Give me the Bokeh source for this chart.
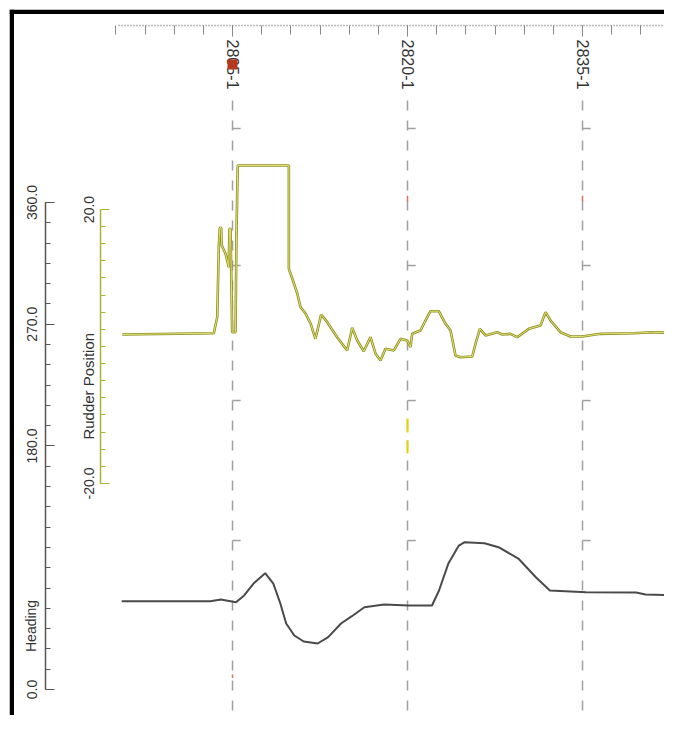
from math import pi
from bokeh.plotting import figure
from bokeh.models import Range1d, LinearAxis, FixedTicker, NumeralTickFormatter, Label, BoxAnnotation
from bokeh.embed import file_html
from bokeh.resources import INLINE

# ---------------- data ----------------
heading_x = [2795.5, 2803.1, 2804.0, 2805.3, 2806.0, 2806.8, 2807.8, 2808.5, 2809.1, 2809.6,
             2810.3, 2811.1, 2812.3, 2813.2, 2814.3, 2815.2, 2816.3, 2818.0, 2820.1, 2822.1,
             2822.7, 2823.5, 2824.4, 2824.9, 2826.6, 2827.8, 2829.5, 2831.0, 2832.2, 2835.3,
             2839.6, 2840.4, 2843.0]
heading = [65.3, 65.3, 66.5, 64.5, 69.5, 78.3, 86.0, 78.3, 63.6, 48.8,
           39.9, 35.5, 34.0, 38.7, 48.8, 54.0, 60.8, 62.8, 62.1, 62.1,
           73.2, 93.1, 106.4, 108.9, 108.1, 105.2, 96.8, 83.0, 73.2, 71.9,
           71.7, 70.2, 69.5]

rudder_x = [2795.55, 2803.40, 2803.69, 2803.83, 2803.91, 2804.03, 2804.08, 2804.40, 2804.68, 2804.74,
            2804.83, 2804.89, 2804.97, 2805.26, 2805.34, 2805.45, 2809.83, 2809.83, 2810.12, 2810.55,
            2810.83, 2811.26, 2811.69, 2812.11, 2812.60, 2813.12, 2813.97, 2814.83, 2815.26, 2815.69,
            2816.25, 2816.83, 2817.26, 2817.69, 2818.11, 2818.83, 2819.40, 2819.97, 2820.26, 2820.40,
            2821.11, 2821.69, 2821.97, 2822.68, 2823.26, 2823.69, 2824.11, 2824.54, 2825.55, 2825.83,
            2826.20, 2826.69, 2827.69, 2828.12, 2828.83, 2829.40, 2830.40, 2831.40, 2831.83, 2832.26,
            2833.11, 2833.97, 2834.97, 2836.54, 2839.40, 2840.83, 2843.40]
rudder = [1.75, 1.94, 4.28, 14.74, 17.33, 17.33, 14.74, 13.58, 11.58, 17.18,
          17.18, 11.09, 2.09, 2.09, 16.50, 26.42, 26.42, 11.34, 9.93, 7.74,
          5.74, 4.82, 3.36, 1.12, 4.67, 3.55, 1.36, -0.58, 2.73, 0.88,
          -0.69, 1.36, -1.07, -2.04, -0.34, -0.58, 1.12, 0.88, -0.10, 1.85,
          2.34, 4.28, 5.15, 5.15, 3.31, 2.34, -1.31, -1.56, -1.46, 0.39,
          2.58, 1.61, 2.09, 1.75, 1.85, 1.36, 2.58, 3.07, 5.01, 3.80,
          2.09, 1.46, 1.46, 1.85, 1.94, 2.09, 1.94]

event_x = [2805, 2820, 2835]
event_labels = ["2805-1", "2820-1", "2835-1"]
top_minor = [2795 + 2.5 * i for i in range(20)]

heading_ticks = [0, 180, 270, 360]
heading_minor = list(range(0, 361, 15))
rudder_ticks = [-20, 20]
rudder_minor = [-20 + 2.5 * i for i in range(17)]

# small decorations on the event lines (heading units)
mark_levels = [414.7, 313.4, 213.6, 110.1]
red_tick_x = [2820, 2835]
red_blob_x = [2805]
red_blob_y = [462.0]

# ---------------- layout constants ----------------
X_START, X_END = 2785.886, 2842.027
H_START, H_END = -19.22, 502.66
R_START, R_END = -53.869, 49.197
HEADING_AXIS_X = 2788.97
RUDDER_AXIS_X = 2793.69
TOP_AXIS_Y = 490.8
EVENT_TOP = 435.4
BORDER_X = 2786.27
BORDER_Y = 499.33

FONT = "Liberation Sans"
OLIVE = "#a9b33a"

p = figure(width=664, height=715, output_backend="svg", toolbar_location=None,
           x_range=Range1d(X_START, X_END), y_range=Range1d(H_START, H_END),
           x_axis_location=None, y_axis_location=None,
           min_border_left=9, min_border_top=9, min_border_right=0, min_border_bottom=0)
p.extra_y_ranges = {"rudder": Range1d(R_START, R_END)}
p.border_fill_color = "white"
p.background_fill_color = "white"
p.outline_line_color = None
p.grid.visible = False

# black window border (left and top)
p.add_layout(BoxAnnotation(right=BORDER_X, fill_color="black", fill_alpha=1, line_color=None))
p.add_layout(BoxAnnotation(bottom=BORDER_Y, fill_color="black", fill_alpha=1, line_color=None))

# event (dashed) lines
p.segment(x0=event_x, x1=event_x, y0=[EVENT_TOP] * 3, y1=[H_START] * 3,
          line_color="#a0a0a0", line_width=1.5, line_dash="10 10")
# small L marks
for lv in mark_levels:
    p.segment(x0=event_x, x1=[e + 0.7 for e in event_x], y0=[lv] * 3, y1=[lv] * 3,
              line_color="#a0a0a0", line_width=1.5)
p.segment(x0=red_tick_x, x1=red_tick_x, y0=[361] * 2, y1=[365] * 2, line_color="#e07060", line_width=1.5)
p.segment(x0=[2805], x1=[2805], y0=[8.5], y1=[11.0], line_color="#e07060", line_width=1.5)
p.segment(x0=[2820, 2820], x1=[2820, 2820], y0=[200.3, 184.1], y1=[190.0, 174.5],
          line_color="#e8d400", line_width=2)

# data lines
p.line(heading_x, heading, line_color="#4a4a4a", line_width=2)
p.line(rudder_x, rudder, y_range_name="rudder", line_color="#8e8e2c", line_width=2.6)
p.line(rudder_x, rudder, y_range_name="rudder", line_color="#e4e46c", line_width=1)

blob = p.scatter(red_blob_x, red_blob_y, marker="square", size=9, fill_color="#b5381f",
                 line_color="#b5381f")
blob.level = "overlay"

# heading axis
hax = LinearAxis(ticker=FixedTicker(ticks=heading_ticks, minor_ticks=heading_minor),
                 formatter=NumeralTickFormatter(format="0.0"),
                 fixed_location=HEADING_AXIS_X, bounds=(0, 360),
                 major_tick_in=9, major_tick_out=0, minor_tick_in=5, minor_tick_out=0,
                 major_label_orientation="vertical", major_label_standoff=8,
                 axis_line_color="#555555", major_tick_line_color="#555555",
                 minor_tick_line_color="#555555", axis_line_width=1.5,
                 major_label_text_font=FONT, major_label_text_font_size="14px",
                 major_label_text_color="#333333")
p.add_layout(hax, "left")

# rudder axis
rax = LinearAxis(y_range_name="rudder",
                 ticker=FixedTicker(ticks=rudder_ticks, minor_ticks=rudder_minor),
                 formatter=NumeralTickFormatter(format="0.0"),
                 fixed_location=RUDDER_AXIS_X, bounds=(-20, 20),
                 major_tick_in=9, major_tick_out=0, minor_tick_in=5, minor_tick_out=0,
                 major_label_orientation="vertical", major_label_standoff=7,
                 axis_line_color=OLIVE, major_tick_line_color=OLIVE,
                 minor_tick_line_color=OLIVE, axis_line_width=1.5,
                 major_label_text_font=FONT, major_label_text_font_size="14px",
                 major_label_text_color="#333333")
p.add_layout(rax, "left")

# top event axis
tax = LinearAxis(ticker=FixedTicker(ticks=event_x, minor_ticks=top_minor),
                 major_label_overrides={x: l for x, l in zip(event_x, event_labels)},
                 fixed_location=TOP_AXIS_Y, bounds=(2795.2, X_END),
                 major_tick_in=0, major_tick_out=11, minor_tick_in=0, minor_tick_out=9,
                 major_label_orientation="vertical", major_label_standoff=3,
                 axis_line_color="#777777", axis_line_dash="1 2", axis_line_width=1.5,
                 major_tick_line_color="#888888", minor_tick_line_color="#888888",
                 major_label_text_font=FONT, major_label_text_font_size="16px",
                 major_label_text_color="#333333")
p.add_layout(tax, "below")

# axis titles in the tick-label columns
p.add_layout(Label(x=HEADING_AXIS_X, y=47, text="Heading", angle=pi / 2, x_offset=-14,
                   text_align="center", text_baseline="middle", text_font=FONT,
                   text_font_size="14px", text_color="#333333"))
p.add_layout(Label(x=RUDDER_AXIS_X, y=-5.8, y_range_name="rudder", text="Rudder Position",
                   angle=pi / 2, x_offset=-12, text_align="center", text_baseline="middle",
                   text_font=FONT, text_font_size="15px", text_color="#333333"))

open("out.html", "w").write(file_html(p, INLINE))
